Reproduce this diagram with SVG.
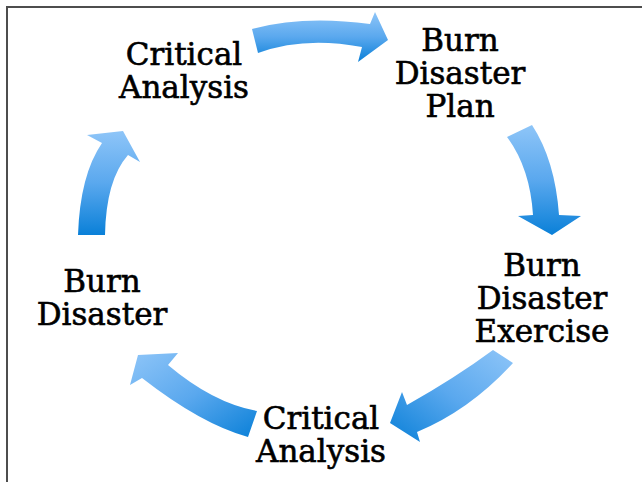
<svg xmlns="http://www.w3.org/2000/svg" width="642" height="482" viewBox="0 0 642 482">
<style>
.lbl{font-family:"DejaVu Serif","Liberation Serif",serif;font-size:31px;fill:#000;stroke:#000;stroke-width:0.6px;text-anchor:middle}
.arr{stroke:none}
</style>
<defs>
<linearGradient id="gv" x1="0" y1="0" x2="0" y2="1">
<stop offset="0" stop-color="#8ec5f8"/>
<stop offset="0.5" stop-color="#5aa8ee"/>
<stop offset="1" stop-color="#0a80d8"/>
</linearGradient>
<linearGradient id="gd" x1="0" y1="0" x2="1" y2="1">
<stop offset="0" stop-color="#8ec5f8"/>
<stop offset="0.5" stop-color="#5aa8ee"/>
<stop offset="1" stop-color="#0a80d8"/>
</linearGradient>
<linearGradient id="gbr" x1="1" y1="0" x2="0" y2="1">
<stop offset="0" stop-color="#8ec5f8"/>
<stop offset="0.5" stop-color="#5aa8ee"/>
<stop offset="1" stop-color="#0a80d8"/>
</linearGradient>
</defs>
<rect x="0" y="0" width="642" height="482" fill="#fff"/>
<path d="M6,7 H642 M7,6 V482" stroke="#4d4d4d" stroke-width="2" fill="none"/>
<g id="connectors">
<path class="arr" fill="url(#gv)" d="M252,29 Q303,15 370,24 L375,12 L388,40 L358,62 L362,47 Q304,36 258,53 Z"/>
<path class="arr" fill="url(#gv)" d="M532,125 Q555,160 559,215 L581,216 L552,235 L518,216 L533,215 Q530,168 507,137 Z"/>
<path class="arr" fill="url(#gbr)" d="M493,350 L513,363 Q470,410 417,432 L420,442 L390,423 L402,392 L407,405 Q455,378 493,350 Z"/>
<path class="arr" fill="url(#gd)" d="M257,411 Q213,403 168,365 L178,353 L138,355 L130,385 L142,378 Q201,424 248,437 Z"/>
<path class="arr" fill="url(#gv)" d="M78,235 Q80,175 102,143 L87,135 L123,131 L140,162 L128,155 Q106,180 105,235 Z"/>
</g>
<g id="n1"><text class="lbl" x="184" y="65">Critical</text><text class="lbl" x="184" y="98">Analysis</text></g>
<g id="n2"><text class="lbl" x="460" y="51">Burn</text><text class="lbl" x="460" y="84">Disaster</text><text class="lbl" x="460" y="117">Plan</text></g>
<g id="n3"><text class="lbl" x="542" y="276">Burn</text><text class="lbl" x="542" y="309">Disaster</text><text class="lbl" x="542" y="342">Exercise</text></g>
<g id="n4"><text class="lbl" x="321" y="429">Critical</text><text class="lbl" x="321" y="462">Analysis</text></g>
<g id="n5"><text class="lbl" x="102" y="292">Burn</text><text class="lbl" x="102" y="325">Disaster</text></g>
</svg>
